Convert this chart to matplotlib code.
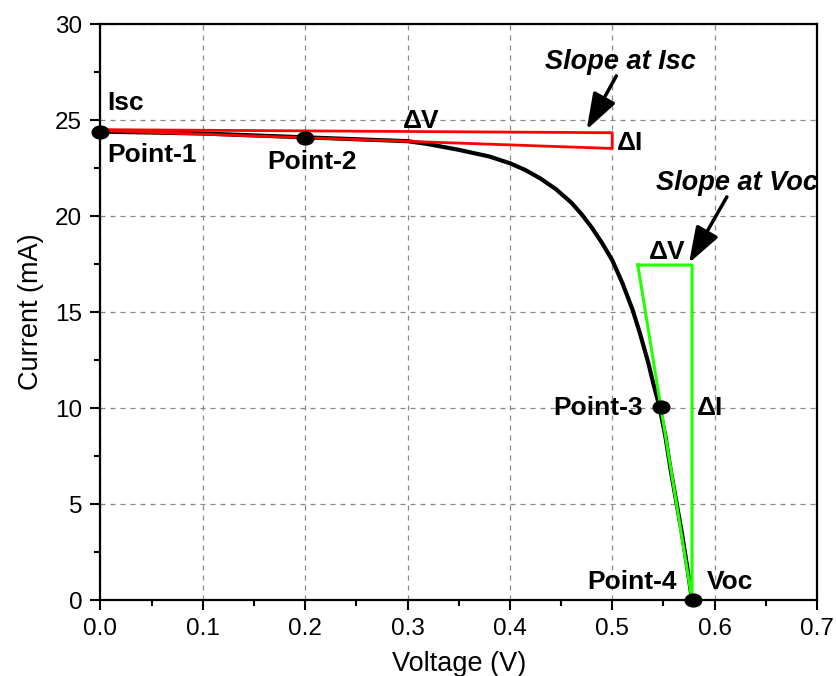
import matplotlib
matplotlib.use("Agg")
import matplotlib.pyplot as plt
from matplotlib.path import Path
from matplotlib.transforms import Affine2D

plt.rcParams['font.family'] = ['Liberation Sans', 'DejaVu Sans']

# I-V curve
voltage = [0.0, 0.05, 0.1, 0.15, 0.2, 0.25, 0.3, 0.32, 0.35, 0.38, 0.4, 0.415,
           0.43, 0.445, 0.46, 0.47, 0.48, 0.49, 0.50, 0.51, 0.52, 0.527, 0.535,
           0.54, 0.546, 0.552, 0.557, 0.563, 0.568, 0.573, 0.578]
current = [24.4, 24.35, 24.3, 24.2, 24.1, 24.0, 23.9, 23.75, 23.45, 23.1, 22.75, 22.4,
           21.95, 21.4, 20.7, 20.1, 19.4, 18.6, 17.7, 16.5, 15.1, 13.9, 12.4,
           11.3, 10.1, 8.5, 6.8, 5.0, 3.5, 1.8, 0.0]

# marked points
point_v = [0.0, 0.2, 0.548, 0.579]
point_i = [24.4, 24.05, 10.05, 0.0]

# slope triangles
isc_tri_v = [0.0, 0.5, 0.5, 0.0]
isc_tri_i = [24.5, 24.34, 23.52, 24.45]
voc_tri_v = [0.525, 0.578, 0.578, 0.525]
voc_tri_i = [17.45, 17.45, 0.0, 17.45]

ellipse = Path.unit_circle().transformed(Affine2D().scale(1.3, 1.0))

fig = plt.figure(figsize=(8.36, 6.76), dpi=100)
ax = fig.add_axes([0.1202, 0.1124, 0.857, 0.852])

ax.grid(True, color='#888888', linestyle=(0, (4, 4)), linewidth=0.9)
ax.set_axisbelow(True)

ax.plot(voltage, current, color='black', linewidth=3, zorder=3)
ax.plot(isc_tri_v, isc_tri_i, color='red', linewidth=2, zorder=4)
ax.plot(voc_tri_v, voc_tri_i, color='#22ff00', linewidth=2.2, zorder=4)
ax.plot(point_v, point_i, linestyle='none', marker=ellipse, markersize=12,
        color='black', zorder=5, clip_on=False)

bold = dict(fontsize=19, fontweight='bold')
ax.text(0.007, 25.9, 'Isc', ha='left', va='center', **bold)
ax.text(0.007, 23.2, 'Point-1', ha='left', va='center', **bold)
ax.text(0.207, 22.8, 'Point-2', ha='center', va='center', **bold)
ax.text(0.53, 10.0, 'Point-3', ha='right', va='center', **bold)
ax.text(0.563, 0.95, 'Point-4', ha='right', va='center', **bold)
ax.text(0.592, 0.95, 'Voc', ha='left', va='center', **bold)

ax.text(0.313, 24.95, 'ΔV', ha='center', va='center', **bold)
ax.text(0.505, 23.8, 'ΔI', ha='left', va='center', **bold)
ax.text(0.554, 18.15, 'ΔV', ha='center', va='center', **bold)
ax.text(0.583, 10.0, 'ΔI', ha='left', va='center', **bold)

ax.text(0.508, 28.0, 'Slope at Isc', ha='center', va='center',
        fontsize=19.5, fontweight='bold', fontstyle='italic')
ax.text(0.622, 21.7, 'Slope at Voc', ha='center', va='center',
        fontsize=19.5, fontweight='bold', fontstyle='italic')
arrow = dict(arrowstyle='-|>,head_length=1.1,head_width=0.38', color='black',
             lw=2.5, shrinkA=0, shrinkB=0, mutation_scale=20)
ax.annotate('', xy=(0.475, 24.5), xytext=(0.504, 27.3), arrowprops=arrow)
ax.annotate('', xy=(0.575, 17.55), xytext=(0.612, 21.0), arrowprops=arrow)

ax.set_xlim(0, 0.7)
ax.set_ylim(0, 30)
ax.set_xticks([0.0, 0.1, 0.2, 0.3, 0.4, 0.5, 0.6, 0.7])
ax.set_xticklabels(['0.0', '0.1', '0.2', '0.3', '0.4', '0.5', '0.6', '0.7'])
ax.set_yticks([0, 5, 10, 15, 20, 25, 30])
ax.set_xticks([0.05, 0.15, 0.25, 0.35, 0.45, 0.55, 0.65], minor=True)
ax.set_yticks([2.5, 7.5, 12.5, 17.5, 22.5, 27.5], minor=True)
ax.tick_params(which='major', direction='out', length=7.2, width=1.5,
               labelsize=17.5, pad=6)
ax.tick_params(which='minor', direction='out', length=4.3, width=1.5)
for s in ax.spines.values():
    s.set_linewidth(1.6)

ax.set_xlabel('Voltage (V)', fontsize=19.5, labelpad=8)
ax.set_ylabel('Current (mA)', fontsize=19.5, labelpad=8)

fig.savefig('out.png', dpi=100)
